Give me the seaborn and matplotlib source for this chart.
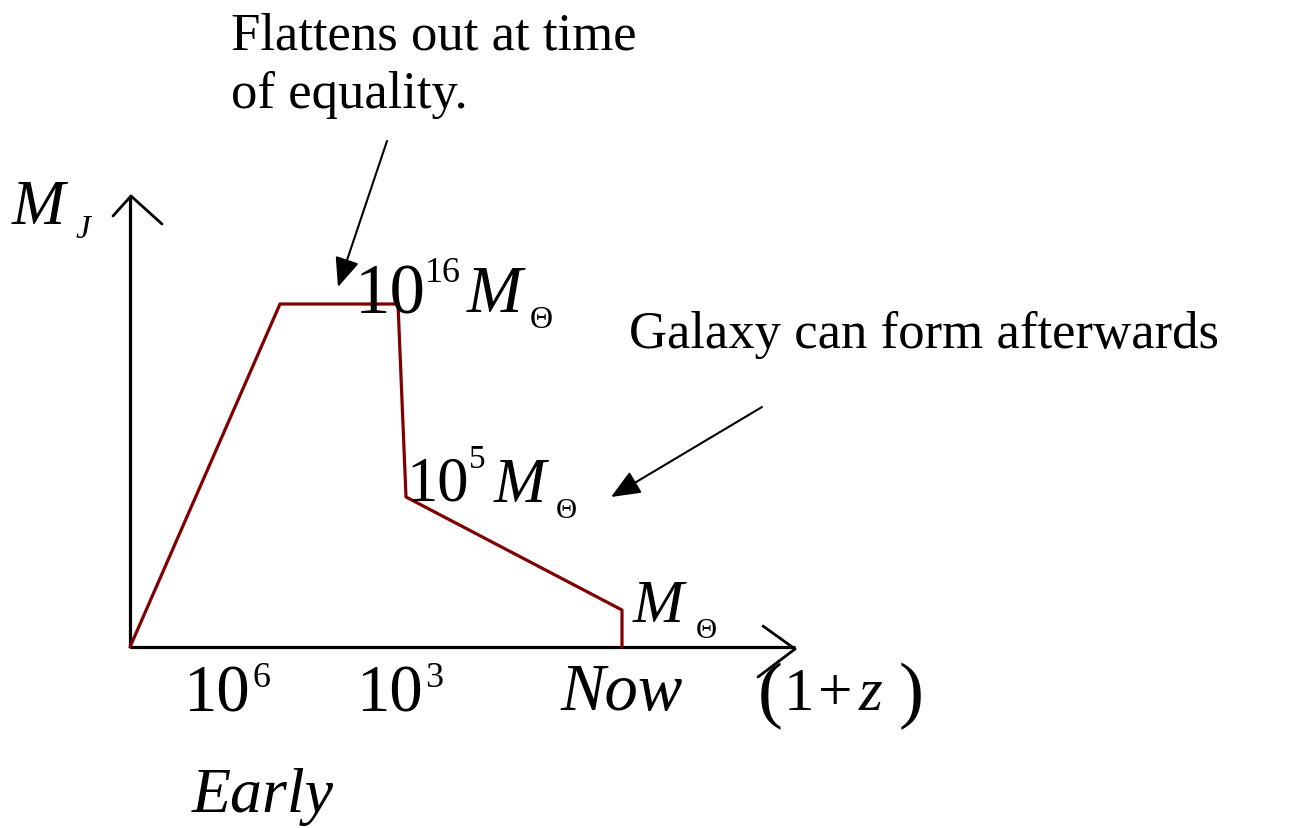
import matplotlib
matplotlib.use("Agg")
import matplotlib.pyplot as plt
from matplotlib.transforms import Affine2D
import pandas as pd
import seaborn as sns

# Schematic Jeans mass history: position along (1+z) axis vs M_J height
stage = ["start", "rise_end", "equality_end", "drop_end", "late", "now"]
x_pos = [0.0, 1.50, 2.68, 2.76, 4.92, 4.92]
mj = [0.0, 3.43, 3.43, 1.50, 0.37, 0.0]

# tick labels along the horizontal axis
tick_base = ["10", "10"]
tick_exp = ["6", "3"]
now_label = "Now"
early_label = "Early"

W, H = 1306, 829
sns.set_theme(style="white")
plt.rcParams["font.family"] = ["Liberation Serif", "DejaVu Serif"]

fig = plt.figure(figsize=(W / 100, H / 100), dpi=100)
ax = fig.add_axes([0, 0, 1, 1])
ax.set_xlim(-1.30, 11.76)
ax.set_ylim(-1.81, 6.48)
ax.axis("off")

# pixel-style layout transform (origin top-left)
pix = Affine2D().scale(1 / W, -1 / H).translate(0, 1) + fig.transFigure

df = pd.DataFrame({"stage": stage, "x": x_pos, "mj": mj})

# axes of the diagram
ax.plot([0, 0], [0, 4.50], color="black", lw=2.3, solid_capstyle="butt", zorder=2)
ax.plot([0, 6.65], [0, 0], color="black", lw=2.3, solid_capstyle="butt", zorder=2)
# open arrow heads
ax.plot([113, 131], [217, 197], color="black", lw=2.0, transform=pix)
ax.plot([131, 162], [197, 225], color="black", lw=2.0, transform=pix)
ax.plot([763, 795], [627, 650], color="black", lw=2.0, transform=pix)
ax.plot([795, 758], [650, 678], color="black", lw=2.0, transform=pix)

sns.lineplot(data=df, x="x", y="mj", sort=False, estimator=None, color="#800000",
             lw=2.3, ax=ax, zorder=3, legend=False)
ax.axis("off")


def put(x, y, s, size, style="normal", **kw):
    ax.text(x, y, s, transform=pix, fontsize=size, fontstyle=style,
            ha="left", va="baseline", color="black", **kw)


# annotations
put(231, 50, "Flattens out at time", 38)
put(231, 108, "of equality.", 38)
put(629, 348, "Galaxy can form afterwards", 38)

arrow_kw = dict(arrowstyle="-|>,head_length=1.0,head_width=0.42", mutation_scale=18,
                lw=1.5, color="black", shrinkA=0, shrinkB=0)
ax.annotate("", xy=(338, 288), xytext=(387, 142), xycoords=pix, textcoords=pix,
            arrowprops=arrow_kw)
ax.annotate("", xy=(611, 498), xytext=(762, 408), xycoords=pix, textcoords=pix,
            arrowprops=arrow_kw)

# y-axis label M_J
put(12, 224, "M", 46, "italic")
put(75, 238, "J", 24, "italic")

# 10^16 M_Theta
put(355, 314, "10", 51)
put(425, 282, "16", 26)
put(467, 312, "M", 48, "italic")
put(530, 328, "\u0398", 23)

# 10^5 M_Theta
put(407, 501, "10", 45)
put(469, 468, "5", 24)
put(494, 502, "M", 45, "italic")
put(556, 518, "\u0398", 21)

# M_Theta at present
put(633, 622, "M", 44, "italic")
put(696, 638, "\u0398", 21)

# horizontal tick labels
for bx, ex, b, e in zip([183, 356], [252, 425], tick_base, tick_exp):
    put(bx, 712, b, 48)
    put(ex, 687, e, 26)
put(560, 710, now_label, 48, "italic")
put(192, 812, early_label, 46, "italic")

# (1+z)
put(758, 714, "(", 54)
put(784, 710, "1", 44)
put(818, 710, "+", 44)
put(859, 710, "z", 44, "italic")
put(899, 714, ")", 54)

fig.savefig("out.png", dpi=100)
